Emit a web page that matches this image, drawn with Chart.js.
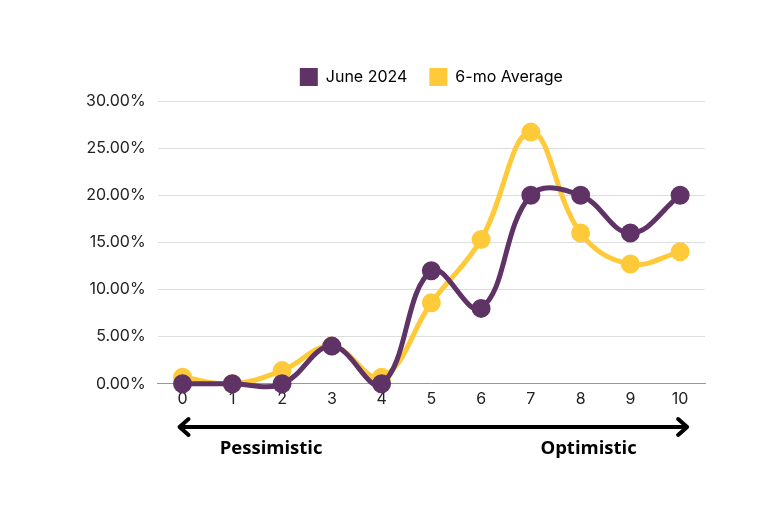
<!DOCTYPE html>
<html lang="en">
<head>
  <meta charset="UTF-8" />
  <title>Sentiment Distribution</title>
  <script src="https://cdn.jsdelivr.net/npm/chart.js"></script>
  <style>
    body { margin: 0; background: #ffffff; }
    .wrap { width: 784px; height: 523px; }
  </style>
</head>
<body>
  <div class="wrap"><canvas id="sentimentChart"></canvas></div>
  <script>
    // scores 0..10, share of responses in percent
    const scores = ['0', '1', '2', '3', '4', '5', '6', '7', '8', '9', '10'];
    const june2024 = [0, 0, 0, 4, 0, 12, 8, 20, 20, 16, 20];
    const sixMoAvg = [0.7, 0, 1.4, 4, 0.7, 8.6, 15.3, 26.7, 16, 12.7, 14];

    const purple = '#5f3366';
    const yellow = '#ffca3a';
    const font = "'Inter', 'DejaVu Sans', sans-serif";

    // a bit more room between legend and plot
    const legendGap = {
      id: 'legendGap',
      beforeInit(chart) {
        const fit = chart.legend.fit;
        chart.legend.fit = function () {
          fit.call(this);
          this.height += 5;
        };
      }
    };

    // double arrow + Pessimistic / Optimistic labels under the x axis
    const scaleArrow = {
      id: 'scaleArrow',
      afterDraw(chart) {
        const ctx = chart.ctx;
        const x = chart.scales.x;
        const x0 = x.getPixelForValue(0) - 3;
        const x1 = x.getPixelForValue(10) + 7;
        const y = 427;
        ctx.save();
        ctx.strokeStyle = '#000';
        ctx.lineWidth = 4;
        ctx.lineCap = 'round';
        ctx.lineJoin = 'round';
        ctx.beginPath();
        ctx.moveTo(x0, y);
        ctx.lineTo(x1, y);
        ctx.moveTo(x0 + 9, y - 8);
        ctx.lineTo(x0, y);
        ctx.lineTo(x0 + 9, y + 8);
        ctx.moveTo(x1 - 9, y - 8);
        ctx.lineTo(x1, y);
        ctx.lineTo(x1 - 9, y + 8);
        ctx.stroke();
        ctx.fillStyle = '#000';
        ctx.font = "bold 18.5px 'Open Sans', sans-serif";
        ctx.textAlign = 'center';
        ctx.textBaseline = 'middle';
        ctx.fillText('Pessimistic', x.getPixelForValue(1.78), 449);
        ctx.fillText('Optimistic', x.getPixelForValue(8.16), 449);
        ctx.restore();
      }
    };

    new Chart(document.getElementById('sentimentChart').getContext('2d'), {
      type: 'line',
      data: {
        labels: scores,
        datasets: [
          {
            label: 'June 2024',
            data: june2024,
            borderColor: purple,
            backgroundColor: purple,
            borderWidth: 5,
            pointRadius: 7,
            pointHoverRadius: 7,
            tension: 0.4,
            capBezierPoints: false,
            clip: false
          },
          {
            label: '6-mo Average',
            data: sixMoAvg,
            borderColor: yellow,
            backgroundColor: yellow,
            borderWidth: 5,
            pointRadius: 7,
            pointHoverRadius: 7,
            tension: 0.4,
            capBezierPoints: false,
            clip: false
          }
        ]
      },
      options: {
        responsive: true,
        maintainAspectRatio: false,
        animation: false,
        layout: { padding: { top: 46, left: 74, right: 79, bottom: 108 } },
        plugins: {
          legend: {
            position: 'top',
            fullSize: false,
            labels: {
              color: '#222',
              font: { family: font, size: 16 },
              boxWidth: 18,
              boxHeight: 18,
              padding: 22,
              generateLabels(chart) {
                return chart.data.datasets.map((ds, i) => ({
                  text: ds.label,
                  fillStyle: ds.borderColor,
                  strokeStyle: ds.borderColor,
                  lineWidth: 0,
                  datasetIndex: i
                }));
              }
            }
          },
          tooltip: { enabled: false }
        },
        scales: {
          x: {
            offset: true,
            grid: { display: false, drawTicks: false },
            border: { color: '#999', width: 1 },
            ticks: { color: '#222', font: { family: font, size: 16 }, padding: 6 }
          },
          y: {
            min: 0,
            max: 30,
            grid: { color: '#dddddd', drawTicks: false },
            border: { display: false },
            ticks: {
              stepSize: 5,
              color: '#222',
              padding: 12,
              font: { family: font, size: 16 },
              callback: v => v.toFixed(2) + '%'
            }
          }
        }
      },
      plugins: [legendGap, scaleArrow]
    });
  </script>
</body>
</html>
